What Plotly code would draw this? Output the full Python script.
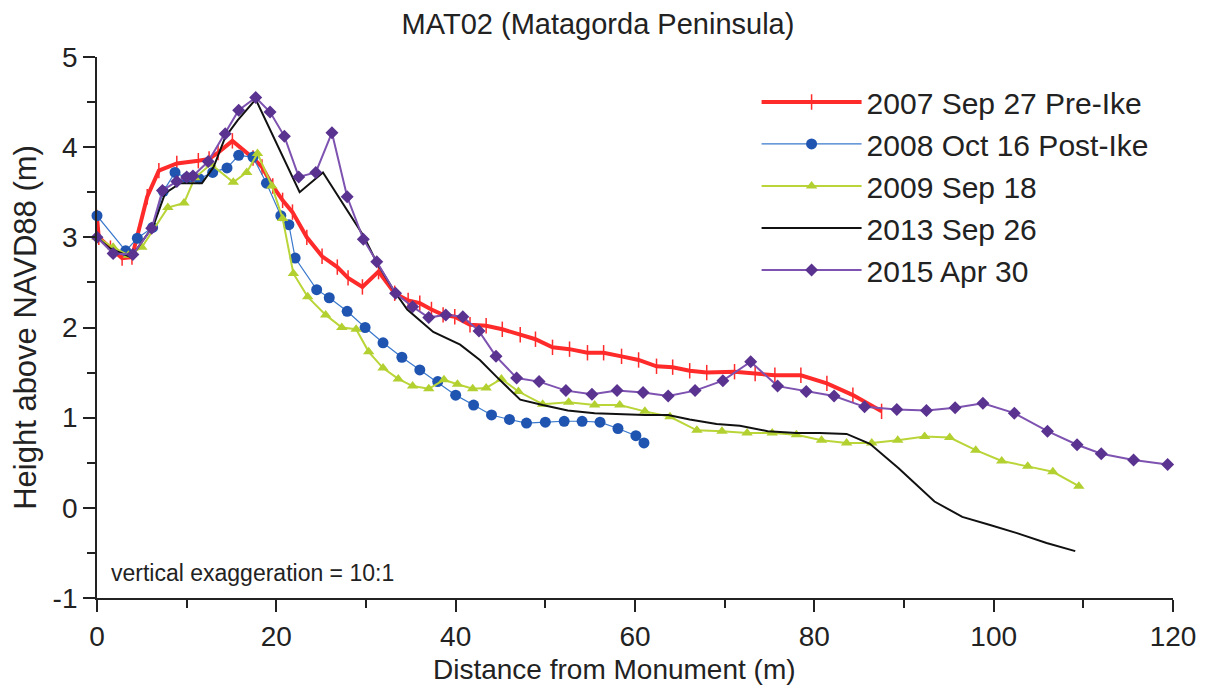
import plotly.graph_objects as go

# ---- data ----
names = ["2007 Sep 27 Pre-Ike", "2008 Oct 16 Post-Ike", "2009 Sep 18", "2013 Sep 26", "2015 Apr 30"]

x2007 = [0, 0.2, 1.5, 2.8, 3.9, 5.6, 6.9, 8.9, 11.3, 12.5, 13.5, 15.1, 17.4, 18.4, 19.6, 20.7, 21.8, 23.4, 25.1,
         26.8, 28.0, 29.6, 31.4, 33.2, 34.7, 36.0, 37.3, 38.6, 39.9, 41.6, 43.4, 45.2, 47.2, 48.9, 50.8, 52.7,
         54.7, 56.5, 58.5, 60.4, 62.4, 64.2, 66.1, 68.0, 71.1, 73.4, 75.6, 78.5, 81.4, 84.3, 87.5]
y2007 = [3.22, 3.0, 2.88, 2.77, 2.78, 3.45, 3.74, 3.82, 3.85, 3.87, 3.94, 4.07, 3.88, 3.78, 3.57, 3.41, 3.28, 3.0,
         2.79, 2.67, 2.55, 2.45, 2.62, 2.38, 2.3, 2.27, 2.2, 2.14, 2.12, 2.03, 2.02, 1.98, 1.92, 1.87, 1.78, 1.76,
         1.72, 1.72, 1.68, 1.64, 1.57, 1.56, 1.52, 1.50, 1.51, 1.49, 1.47, 1.47, 1.38, 1.25, 1.07]

x2008 = [0, 3.2, 4.5, 6.2, 7.4, 8.7, 10.0, 10.7, 11.4, 12.9, 14.5, 15.8, 17.4, 18.9, 20.5, 21.4, 22.1, 24.5, 25.9,
         27.9, 29.9, 31.9, 34.0, 36.0, 38.0, 40.0, 42.0, 44.0, 46.0, 47.9, 50.0, 52.1, 54.1, 56.1, 58.1, 60.1, 61.0]
y2008 = [3.24, 2.85, 2.99, 3.11, 3.51, 3.72, 3.66, 3.67, 3.65, 3.72, 3.77, 3.91, 3.89, 3.6, 3.24, 3.14, 2.77, 2.42,
         2.33, 2.18, 2.0, 1.83, 1.67, 1.53, 1.4, 1.25, 1.14, 1.03, 0.98, 0.94, 0.95, 0.96, 0.96, 0.95, 0.88, 0.8, 0.72]

x2009 = [0, 1.8, 3.5, 5.0, 7.9, 9.7, 10.9, 12.7, 15.2, 16.7, 17.9, 19.5, 20.7, 21.9, 23.5, 25.5, 27.3, 28.9, 30.3,
         31.9, 33.6, 35.2, 37.0, 38.7, 40.2, 41.9, 43.4, 45.1, 47.0, 49.7, 52.6, 55.5, 58.3, 61.1, 63.9, 66.9,
         69.7, 72.5, 75.3, 78.0, 80.8, 83.6, 86.4, 89.3, 92.3, 95.1, 98.0, 100.9, 103.8, 106.6, 109.5]
y2009 = [3.0, 2.89, 2.8, 2.89, 3.33, 3.38, 3.66, 3.81, 3.61, 3.72, 3.93, 3.57, 3.21, 2.6, 2.34, 2.14, 2.0, 1.98,
         1.73, 1.55, 1.43, 1.35, 1.32, 1.42, 1.37, 1.32, 1.33, 1.43, 1.29, 1.15, 1.17, 1.14, 1.14, 1.07, 1.01, 0.86,
         0.85, 0.83, 0.83, 0.81, 0.75, 0.72, 0.72, 0.75, 0.79, 0.78, 0.64, 0.52, 0.46, 0.40, 0.24]

x2013 = [0, 1.4, 3.8, 6.3, 7.6, 9.3, 11.7, 13.0, 14.3, 15.7, 17.7, 22.6, 25.2, 29.7, 31.3, 33.1, 34.6, 37.5, 40.5,
         42.7, 44.6, 47.2, 49.7, 52.5, 55.5, 58.3, 61.1, 63.7, 66.1, 69.1, 71.7, 74.8, 78.0, 80.6, 83.6, 86.2,
         89.4, 93.4, 96.5, 99.6, 102.6, 105.9, 109.1]
y2013 = [3.0, 2.88, 2.78, 3.13, 3.49, 3.6, 3.6, 3.78, 4.11, 4.3, 4.53, 3.5, 3.72, 3.02, 2.7, 2.41, 2.2, 1.95, 1.81,
         1.64, 1.45, 1.2, 1.14, 1.08, 1.05, 1.04, 1.03, 1.03, 0.98, 0.93, 0.91, 0.85, 0.83, 0.83, 0.82, 0.71,
         0.44, 0.07, -0.1, -0.19, -0.28, -0.39, -0.48]

x2015 = [0, 1.8, 4.0, 6.1, 7.3, 8.9, 10.0, 10.7, 12.4, 14.3, 15.8, 17.7, 19.3, 20.9, 22.5, 24.4, 26.2, 27.9, 29.7,
         31.2, 33.3, 35.2, 37.0, 38.9, 40.8, 42.6, 44.5, 46.8, 49.3, 52.3, 55.2, 58.0, 60.9, 63.7, 66.7, 69.8,
         72.9, 75.9, 79.1, 82.2, 85.6, 89.2, 92.5, 95.7, 98.8, 102.3, 106.0, 109.3, 112.0, 115.6, 119.4]
y2015 = [3.0, 2.82, 2.81, 3.1, 3.52, 3.62, 3.67, 3.68, 3.84, 4.15, 4.41, 4.55, 4.39, 4.12, 3.67, 3.72, 4.16, 3.45,
         2.98, 2.73, 2.38, 2.23, 2.11, 2.14, 2.12, 1.96, 1.68, 1.44, 1.40, 1.30, 1.26, 1.30, 1.28, 1.24, 1.30, 1.41,
         1.62, 1.35, 1.29, 1.24, 1.12, 1.09, 1.08, 1.11, 1.16, 1.05, 0.85, 0.70, 0.60, 0.53, 0.48]

x_ticks = [0, 20, 40, 60, 80, 100, 120]
x_ticktext = ["0", "20", "40", "60", "80", "100", "120"]
y_ticks = [-1, 0, 1, 2, 3, 4, 5]
y_ticktext = ["-1", "0", "1", "2", "3", "4", "5"]

FONT = "Liberation Sans, Arial, sans-serif"
INK = "#222222"

fig = go.Figure()

fig.add_trace(go.Scatter(x=x2007, y=y2007, name=names[0], mode="lines+markers", legendgroup="a",
                         line=dict(color="#ff2a2a", width=4),
                         marker=dict(symbol="line-ns-open", size=11, line=dict(color="#e81818", width=1.5)),
                         cliponaxis=False))
fig.add_trace(go.Scatter(x=x2008, y=y2008, name=names[1], mode="lines+markers", legendgroup="b",
                         line=dict(color="#3a78cc", width=1.2),
                         marker=dict(symbol="circle", size=11, color="#1f54b0"),
                         cliponaxis=False))
fig.add_trace(go.Scatter(x=x2009, y=y2009, name=names[2], mode="lines+markers", legendgroup="c",
                         line=dict(color="#b9d538", width=2),
                         marker=dict(symbol="triangle-up", size=10, color="#b2d030"),
                         cliponaxis=False))
fig.add_trace(go.Scatter(x=x2013, y=y2013, name=names[3], mode="lines", legendgroup="d",
                         line=dict(color="#111111", width=2),
                         cliponaxis=False))
fig.add_trace(go.Scatter(x=x2015, y=y2015, name=names[4], mode="lines+markers", legendgroup="e",
                         line=dict(color="#7d52b0", width=2),
                         marker=dict(symbol="diamond", size=10, color="#5a3290"),
                         cliponaxis=False))

fig.add_annotation(text="vertical exaggeration = 10:1", xref="paper", yref="paper",
                   x=0.011, y=0.047, xanchor="left", yanchor="middle", showarrow=False,
                   font=dict(family=FONT, size=23, color=INK))

# x-axis title (placed slightly left of the plot centre, as in the original)
fig.add_annotation(text="Distance from Monument (m)", xref="paper", yref="paper",
                   x=0.481, y=-0.133, xanchor="center", yanchor="middle", showarrow=False,
                   font=dict(family=FONT, size=28, color=INK))

fig.update_layout(
    width=1210, height=690,
    paper_bgcolor="white", plot_bgcolor="white",
    margin=dict(l=89, r=45, t=49, b=100),
    font=dict(family=FONT, color=INK),
    title=dict(text="MAT02 (Matagorda Peninsula)", x=0.4876, xref="container", xanchor="center",
               y=1 - 16 / 690, yref="container", yanchor="middle", font=dict(family=FONT, size=29, color=INK)),
    showlegend=True,
    legend=dict(x=0.613, y=0.965, xanchor="left", yanchor="top", bgcolor="rgba(0,0,0,0)",
                font=dict(family=FONT, size=30, color=INK), itemwidth=100, tracegroupgap=6,
                traceorder="normal"),
    xaxis=dict(range=[0, 120], tickvals=x_ticks, ticktext=x_ticktext, ticks="outside", ticklen=12, tickwidth=1.8,
               showline=True, linecolor=INK, linewidth=1.8, showgrid=False, zeroline=False, automargin=False,
               tickfont=dict(size=28, family=FONT, color=INK), tickcolor=INK,
               minor=dict(dtick=10, ticks="outside", ticklen=8, tickwidth=1.8, tickcolor=INK, showgrid=False)),
    yaxis=dict(range=[-1, 5], tickvals=y_ticks, ticktext=y_ticktext, ticks="outside", ticklen=12, tickwidth=1.8,
               showline=True, linecolor=INK, linewidth=1.8, showgrid=False, zeroline=False, automargin=False,
               tickfont=dict(size=28, family=FONT, color=INK), tickcolor=INK,
               minor=dict(dtick=0.5, ticks="outside", ticklen=8, tickwidth=1.8, tickcolor=INK, showgrid=False),
               title=dict(text="Height above NAVD88 (m)", font=dict(size=31, family=FONT, color=INK), standoff=14)),
)

fig.write_html("out.html")
